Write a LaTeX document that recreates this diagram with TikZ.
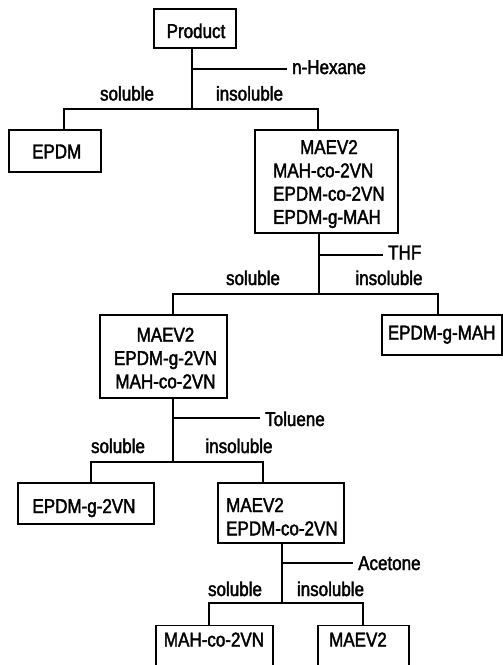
\documentclass[tikz,border=0pt]{standalone}
\usepackage{fontspec}
\setmainfont{Liberation Sans}[FakeStretch=0.85,FakeBold=2]
\begin{document}
\begin{tikzpicture}[x=1pt,y=-1pt,
  box/.style={draw, line width=1.2pt, inner sep=0pt, rectangle},
  txt/.style={inner sep=0pt, anchor=base, font=\fontsize{20}{23.3}\selectfont},
  conn/.style={line width=1.2pt}]
\useasboundingbox (0,0) rectangle (503,665);
\fill[white] (0,0) rectangle (503,665);
\clip (0,0) rectangle (503,665);

% ---- boxes ----
\node[box, minimum width=82pt,  minimum height=39pt]  (prod) at (195,28.5) {};
\node[box, minimum width=92pt,  minimum height=42pt]  (epdm) at (55,151) {};
\node[box, minimum width=143pt, minimum height=103pt] (mb1)  at (326.5,181.5) {};
\node[box, minimum width=127pt, minimum height=83pt]  (mb2)  at (163.5,356.5) {};
\node[box, minimum width=120pt, minimum height=40pt]  (egm)  at (442,335) {};
\node[box, minimum width=136pt, minimum height=41pt]  (eg2)  at (86,503.5) {};
\node[box, minimum width=126pt, minimum height=60pt]  (mb4)  at (281,513) {};
\node[box, minimum width=117pt, minimum height=60pt, anchor=north] (mc) at (214.5,625) {};
\node[box, minimum width=91pt,  minimum height=60pt, anchor=north] (mv) at (363.5,625) {};

% ---- box texts ----
\node[txt] (prodT) at (196,38) {Product};
\node[txt] (epdmT) at (56.7,158.3) {EPDM};
\node[txt, anchor=base west] (mb1T) at (273,154) {\begin{tabular}[t]{@{}l@{}}\multicolumn{1}{@{}c@{}}{MAEV2}\\MAH-co-2VN\\EPDM-co-2VN\\EPDM-g-MAH\end{tabular}};
\node[txt] (mb2T) at (165.5,341.7) {\begin{tabular}[t]{@{}c@{}}MAEV2\\EPDM-g-2VN\\MAH-co-2VN\end{tabular}};
\node[txt] (egmT) at (441.7,339.5) {EPDM-g-MAH};
\node[txt] (eg2T) at (84,513) {EPDM-g-2VN};
\node[txt, anchor=base west] (mb4T) at (226,512) {\begin{tabular}[t]{@{}l@{}}MAEV2\\EPDM-co-2VN\end{tabular}};
\node[txt] (mcT) at (214,646.5) {MAH-co-2VN};
\node[txt] (mvT) at (358,646.5) {MAEV2};

% ---- split 1 : n-Hexane ----
\coordinate (j1) at (192,109); \coordinate (k1) at (192,69); \coordinate (h1) at (287,69);
\coordinate (l1) at (64,109);  \coordinate (r1) at (318,109);
\draw[conn] (prod.south -| j1) -- (j1);
\draw[conn] (k1) -- (h1);
\draw[conn] (epdm.north -| l1) -- (l1) -- (r1) -- (mb1.north -| r1);
\node[txt, anchor=base west] (hex) at (292,74) {n-Hexane};
\node[txt] (s1) at (127,100.5) {soluble};
\node[txt] (i1) at (249.5,100.5) {insoluble};

% ---- split 2 : THF ----
\coordinate (j2) at (319,294); \coordinate (k2) at (319,255); \coordinate (h2) at (383,255);
\coordinate (l2) at (173,294); \coordinate (r2) at (438,294);
\draw[conn] (mb1.south -| j2) -- (j2);
\draw[conn] (k2) -- (h2);
\draw[conn] (mb2.north -| l2) -- (l2) -- (r2) -- (egm.north -| r2);
\node[txt, anchor=base west] (thf) at (388,259.3) {THF};
\node[txt] (s2) at (253,285) {soluble};
\node[txt] (i2) at (389,285) {insoluble};

% ---- split 3 : Toluene ----
\coordinate (j3) at (173,462); \coordinate (k3) at (173,418); \coordinate (h3) at (260,418);
\coordinate (l3) at (91,462);  \coordinate (r3) at (263,462);
\draw[conn] (mb2.south -| j3) -- (j3);
\draw[conn] (k3) -- (h3);
\draw[conn] (eg2.north -| l3) -- (l3) -- (r3) -- (mb4.north -| r3);
\node[txt, anchor=base west] (tol) at (265,426) {Toluene};
\node[txt] (s3) at (118,453) {soluble};
\node[txt] (i3) at (239,453) {insoluble};

% ---- split 4 : Acetone ----
\coordinate (j4) at (282,603); \coordinate (k4) at (282,563); \coordinate (h4) at (353,563);
\coordinate (l4) at (209,603); \coordinate (r4) at (363,603);
\draw[conn] (mb4.south -| j4) -- (j4);
\draw[conn] (k4) -- (h4);
\draw[conn] (mc.north -| l4) -- (l4) -- (r4) -- (mv.north -| r4);
\node[txt, anchor=base west] (ace) at (358,570) {Acetone};
\node[txt] (s4) at (235,596) {soluble};
\node[txt] (i4) at (330.5,596) {insoluble};
\end{tikzpicture}
\end{document}
